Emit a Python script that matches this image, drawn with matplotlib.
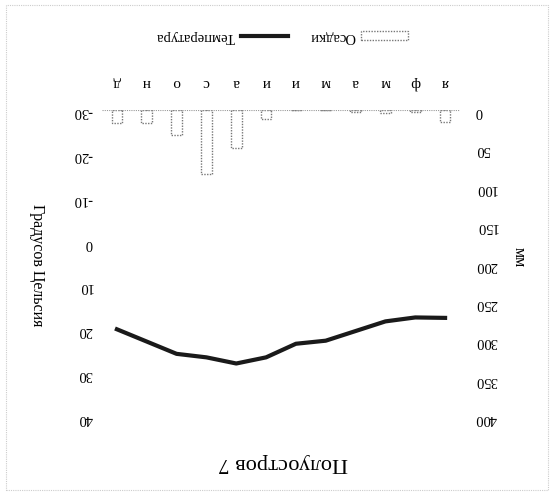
import matplotlib
matplotlib.use("Agg")
import matplotlib.pyplot as plt
from matplotlib.patches import Rectangle
from matplotlib.lines import Line2D

# climate data (the scan is upside down, so the chart is drawn rotated 180 deg)
months = ['я', 'ф', 'м', 'а', 'м', 'и', 'и', 'а', 'с', 'о', 'н', 'д']
precip = [16, 3, 4, 3, 0, 0, 12, 49, 83, 32, 17, 17]
temp = [17.4, 17.3, 18.2, 20.4, 22.6, 23.3, 26.4, 27.8, 26.4, 25.6, 22.8, 20.0]
mm_ticks = [0, 50, 100, 150, 200, 250, 300, 350, 400]
t_ticks = [-30, -20, -10, 0, 10, 20, 30, 40]

plt.rcParams['font.family'] = ['Liberation Serif', 'DejaVu Serif']
W, H = 554, 498
fig = plt.figure(figsize=(W / 100, H / 100), dpi=100)

ax = fig.add_axes([102 / W, 1 - 417 / H, 358 / W, 307 / H])
x = list(range(len(months)))
bars = ax.bar(x, precip, width=0.36, facecolor='white', edgecolor='#777777',
              linewidth=1.0, linestyle=(0, (1, 1)))
ax.axhline(0, color='#999999', linewidth=0.8, linestyle=(0, (1, 1)))
ax.set_xlim(11.5, -0.5)
ax.set_xticks(x)
ax.set_xticklabels(months, rotation=180, fontsize=11)
ax.xaxis.tick_top()
ax.tick_params(axis='x', length=0, pad=15)

# temperature axis (twinx moves the original ticks, so set sides afterwards)
ax2 = ax.twinx()
ax2.plot(x, temp, color='#1a1a1a', linewidth=3)
ax2.set_ylim(40, -30)
ax2.set_yticks(t_ticks)
ax2.set_yticklabels([str(v) for v in t_ticks], rotation=180, fontsize=10.5)
ax2.yaxis.tick_left()
ax2.tick_params(axis='y', length=0, pad=7)

ax.set_ylim(400, 0)
ax.set_yticks(mm_ticks)
ax.set_yticklabels([str(v) for v in mm_ticks], rotation=180, fontsize=10.5)
ax.yaxis.tick_right()
ax.tick_params(axis='y', length=0, pad=11)

for a in (ax, ax2):
    for s in a.spines.values():
        s.set_visible(False)

fig.text(283 / W, 1 - 462 / H, 'Полуостров 7', rotation=180, fontsize=16,
         ha='center', va='center')
fig.text(37 / W, 1 - 265 / H, 'Градусов Цельсия', rotation=270, fontsize=11.5,
         ha='center', va='center')
fig.text(519 / W, 1 - 257 / H, 'мм', rotation=270, fontsize=11.5,
         ha='center', va='center')

h_line = Line2D([], [], color='#1a1a1a', linewidth=3)
h_bar = Rectangle((0, 0), 1, 1, facecolor='white', edgecolor='#777777',
                  linewidth=1.0, linestyle=(0, (1, 1)))
leg = fig.legend([h_line, h_bar], ['Температура', 'Осадки'], loc='center',
                 bbox_to_anchor=(282 / W, 1 - 37 / H), ncol=2, frameon=False,
                 markerfirst=False, handlelength=3.2, handleheight=0.6,
                 handletextpad=0.4, columnspacing=1.5, fontsize=10.5)
for t in leg.get_texts():
    t.set_rotation(180)

fig.patches.append(Rectangle((6 / W, 1 - 490 / H), 542 / W, 485 / H,
                             transform=fig.transFigure, fill=False,
                             edgecolor='#cccccc', linewidth=0.8,
                             linestyle=(0, (1, 1))))

fig.savefig('out.png', dpi=100)
